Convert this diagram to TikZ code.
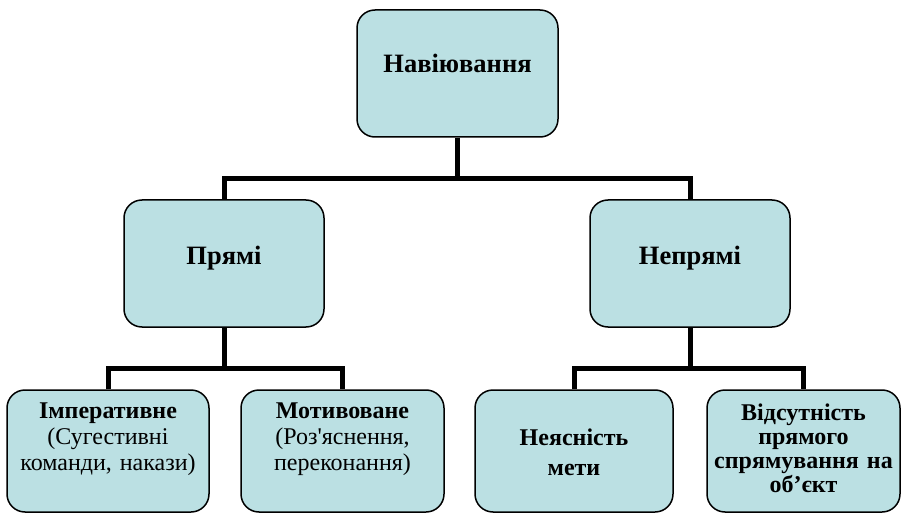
\documentclass[tikz,border=0pt]{standalone}
\usepackage{fontspec}
\setmainfont{Liberation Serif}
\frenchspacing
\definecolor{boxfill}{RGB}{187,224,227}
\newcommand{\straightapos}{{\addfontfeature{Ligatures=TeXOff}'}}
\begin{document}
\begin{tikzpicture}[x=1pt,y=-1pt,
  box/.style={draw=black,line width=1.5pt,fill=boxfill,rounded corners=18pt,inner sep=0pt},
  conn/.style={draw=black,line width=5pt,line join=miter},
  big/.style={font=\fontsize{26.5}{30}\selectfont\bfseries,anchor=base,align=center},
  small/.style={font=\fontsize{24}{26}\selectfont,anchor=base,align=center,text width=200pt,inner sep=0pt}]
\useasboundingbox (0,0) rectangle (902,513);
% boxes
\node[box,minimum width=201pt,minimum height=127pt] (top) at (457.5,73.5) {};
\node[box,minimum width=200pt,minimum height=127pt] (pr) at (224,263.5) {};
\node[box,minimum width=200pt,minimum height=127pt] (np) at (690,263.5) {};
\node[box,minimum width=202pt,minimum height=122pt] (b1) at (108,451) {};
\node[box,minimum width=203pt,minimum height=122pt] (b2) at (342.5,451) {};
\node[box,minimum width=198pt,minimum height=122pt] (b3) at (574,451) {};
\node[box,minimum width=193pt,minimum height=122pt] (b4) at (803.5,451) {};
% texts
\node[big] (ttop) at (457.5,73) {Навіювання};
\node[big] (tpr) at (224,264) {Прямі};
\node[big] (tnp) at (690,264) {Непрямі};
\node[small] (tb1) at (108,418) {\textbf{Імперативне}\\(Сугестивні\\команди, накази)};
\node[small] (tb2) at (342.5,418) {\textbf{Мотивоване}\\(Роз\straightapos яснення,\\переконання)};
\node[small,font=\fontsize{24}{30}\selectfont\bfseries] (tb3) at (574,445) {Неясність\\мети};
\node[small,font=\fontsize{24}{24}\selectfont\bfseries] (tb4) at (803.5,420) {Відсутність\\прямого\\спрямування на\\об’єкт};
% connectors
\coordinate (bus0) at (457.5,179);
\coordinate (busL) at (224,368);
\coordinate (busR) at (690,368);
\draw[conn] (top.south) -- (bus0);
\draw[conn] (pr.north) |- (bus0) -| (np.north);
\draw[conn] (pr.south) -- (busL);
\draw[conn] (b1.north) |- (busL) -| (b2.north);
\draw[conn] (np.south) -- (busR);
\draw[conn] (b3.north) |- (busR) -| (b4.north);
\end{tikzpicture}
\end{document}
